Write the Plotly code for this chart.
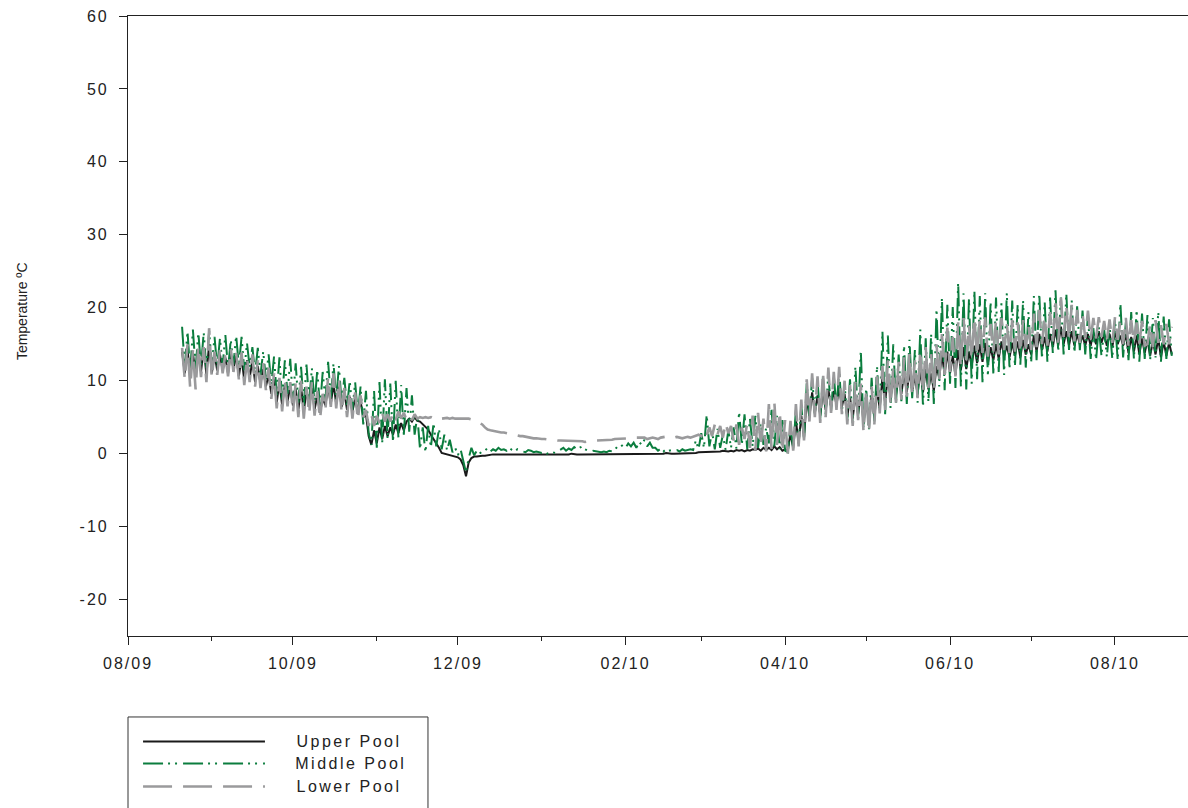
import pandas as pd
import plotly.graph_objects as go

# Daily water temperature readings (degrees C), one value per day from 2009-08-21
upper_pool = [
    14.0, 11.0, 14.4, 10.6, 13.8, 10.8, 14.2,
    11.2, 14.6, 10.8, 15.0, 11.0, 13.6, 11.4,
    13.6, 11.4, 13.2, 11.0, 13.8, 11.6, 13.4,
    10.6, 13.2, 10.0, 12.8, 10.4, 12.8, 9.8,
    12.0, 9.6, 11.6, 9.2, 10.8, 8.2, 10.2,
    7.0, 9.8, 6.6, 9.4, 7.2, 9.2, 6.6,
    9.0, 6.0, 9.2, 5.8, 8.6, 6.4, 9.0,
    6.0, 8.0, 5.6, 7.6, 6.6, 9.2, 6.8,
    9.6, 6.8, 9.2, 6.4, 8.4, 6.0, 7.8,
    5.8, 7.6, 5.6, 7.2, 5.0, 5.4, 2.4,
    1.2, 3.2, 1.4, 3.6, 2.0, 3.8, 2.4,
    3.6, 2.6, 4.0, 2.8, 4.2, 3.2, 4.4,
    4.8, 4.4, 5.0, 4.5, 4.4, 4.0, 3.6,
    3.3, 2.6, 2.0, 1.5, 0.8, 0.1, 0.0,
    -0.1, -0.1, -0.2, -0.4, -0.5, -0.8, -1.6,
    -3.1, -1.2, -0.6, -0.4, -0.4, -0.3, -0.3,
    -0.3, -0.2, -0.2, -0.1, -0.1, -0.1, -0.1,
    -0.1, -0.1, -0.2, -0.1, -0.1, -0.1, -0.2,
    -0.2, -0.1, -0.1, -0.2, -0.2, -0.1, -0.1,
    -0.1, -0.2, -0.2, -0.1, -0.1, -0.1, -0.1,
    -0.1, -0.1, -0.1, -0.1, 0.0, -0.1, -0.1,
    -0.1, -0.1, -0.1, 0.0, -0.1, -0.1, -0.1,
    -0.1, 0.0, -0.1, -0.1, 0.0, -0.1, 0.0,
    0.0, -0.1, 0.0, 0.0, -0.1, 0.0, 0.0,
    0.0, 0.0, 0.0, -0.1, 0.0, 0.0, 0.0,
    0.0, 0.0, 0.0, 0.0, 0.1, 0.0, 0.0,
    0.0, 0.0, 0.0, 0.1, 0.1, 0.1, 0.1,
    0.1, 0.1, 0.2, 0.2, 0.2, 0.3, 0.2,
    0.3, 0.2, 0.3, 0.3, 0.4, 0.3, 0.3,
    0.4, 0.3, 0.5, 0.4, 0.5, 0.3, 0.5,
    0.4, 0.6, 0.5, 0.7, 0.4, 0.8, 0.5,
    0.8, 0.5, 1.0, 0.6, 0.9, 0.4, 0.6,
    0.4, 2.8, 0.8, 4.6, 1.4, 5.2, 2.2,
    7.6, 5.0, 8.4, 5.6, 8.0, 5.2, 8.6,
    6.0, 8.8, 6.4, 8.6, 6.7, 9.0, 6.4,
    8.2, 5.0, 7.8, 4.8, 8.0, 5.4, 8.4,
    4.2, 7.4, 4.0, 8.0, 5.0, 8.6, 6.2,
    10.4, 7.0, 10.8, 7.6, 10.2, 8.0, 10.6,
    8.2, 11.0, 8.4, 11.2, 8.6, 10.6, 8.2,
    11.4, 8.4, 11.6, 8.8, 11.0, 8.6, 12.0,
    10.4, 13.6, 10.8, 14.0, 11.0, 13.4, 10.8,
    14.2, 11.4, 14.6, 11.6, 14.0, 12.0, 14.8,
    12.4, 15.0, 12.6, 15.2, 12.4, 14.6, 12.8,
    15.0, 13.0, 15.4, 13.4, 14.8, 13.2, 15.2,
    13.4, 15.4, 13.2, 15.6, 13.6, 15.0, 13.6,
    16.2, 14.0, 16.4, 14.2, 16.0, 14.0, 16.4,
    14.6, 17.0, 14.8, 17.4, 15.0, 16.8, 14.8,
    16.8, 14.8, 16.4, 15.0, 16.2, 14.8, 16.4,
    14.8, 16.6, 15.0, 16.8, 15.2, 16.4, 14.8,
    16.4, 14.6, 16.8, 15.0, 16.2, 14.8, 16.4,
    13.8, 16.0, 14.0, 16.2, 13.6, 15.8, 13.8,
    15.6, 13.4, 15.4, 13.6, 15.8, 13.2, 15.4,
    13.4, 15.2, 13.6,
]

middle_pool = [
    17.4, 11.8, 16.8, 11.2, 17.0, 11.6, 16.6,
    12.0, 16.6, 11.6, 16.8, 12.2, 16.0, 11.8,
    15.8, 12.0, 16.3, 11.6, 15.6, 12.2, 16.2,
    12.0, 16.0, 11.4, 15.2, 11.8, 14.6, 11.0,
    14.5, 10.8, 14.0, 10.2, 13.6, 9.4, 13.3,
    8.0, 13.2, 7.4, 12.8, 8.2, 13.0, 7.2,
    12.4, 7.0, 11.9, 6.6, 12.2, 7.2, 11.7,
    6.8, 11.5, 6.2, 11.2, 7.4, 12.6, 7.6,
    12.4, 7.4, 12.0, 7.0, 10.4, 6.4, 10.0,
    6.0, 9.8, 5.4, 9.2, 4.0, 8.6, 2.8,
    1.2, 8.6, 0.8, 9.8, 1.4, 10.2, 2.0,
    9.6, 1.6, 10.0, 2.2, 9.4, 2.6, 9.0,
    3.0, 8.0, 2.6, 5.2, 0.6, 3.6, 0.2,
    3.8, 0.8, 4.2, 1.0, 3.4, 0.6, 2.6,
    0.4, 1.9, 0.2, 0.8, -0.2, 0.6, -1.0,
    -2.6, -0.6, 0.8, -0.2, 0.4, 0.0, 0.3,
    0.4, 0.8, 0.3, 0.6, 0.4, 0.8, 0.5,
    0.6, 0.4, 0.8, 0.5, 0.3, 0.6, 0.4,
    0.3, 0.2, 0.5, 0.4, 0.2, 0.3, 0.2,
    0.1, 0.2, 0.0, 0.1, 0.2, 0.1, 0.3,
    0.5, 0.8, 0.4, 0.7, 0.5, 0.9, 0.6,
    0.8, 1.0, 0.6, 0.4, 0.3, 0.4, 0.3,
    0.3, 0.2, 0.3, 0.2, 0.4, 0.3, 0.5,
    1.0, 0.9, 1.2, 0.8, 1.4, 1.0, 1.5,
    0.8, 1.6, 1.2, 1.9, 1.0, 1.5, 0.8,
    0.8, 0.4, 0.7, 0.3, 0.6, 0.4, 0.5,
    0.4, 0.5, 0.3, 0.6, 0.4, 0.5, 0.6,
    0.5, 1.8, 0.6, 2.8, 0.8, 5.3, 1.0,
    3.0, 0.6, 3.4, 0.8, 2.6, 0.5, 3.2,
    0.8, 3.6, 0.7, 5.7, 1.2, 5.4, 0.6,
    4.8, 1.0, 5.2, 0.8, 4.2, 1.2, 3.6,
    1.4, 6.0, 1.0, 5.2, 0.6, 4.6, 0.4,
    0.2, 3.8, 0.6, 6.0, 1.4, 6.6, 2.0,
    9.6, 5.0, 10.4, 5.4, 10.0, 4.8, 10.6,
    5.4, 11.0, 5.8, 10.8, 6.2, 11.4, 5.8,
    9.6, 4.6, 10.2, 4.2, 12.0, 4.8, 14.2,
    3.4, 9.0, 3.2, 10.4, 4.4, 12.0, 5.6,
    16.8, 5.4, 16.2, 6.2, 15.0, 6.8, 13.6,
    7.2, 14.8, 6.8, 15.6, 7.6, 14.2, 7.0,
    17.0, 6.4, 15.8, 7.0, 16.4, 6.8, 19.8,
    9.2, 21.4, 8.7, 20.4, 9.6, 20.1, 9.0,
    23.5, 9.2, 22.0, 8.8, 21.2, 9.6, 22.4,
    10.2, 21.6, 9.8, 22.0, 10.6, 20.8, 11.0,
    21.4, 11.2, 20.6, 10.8, 22.0, 11.6, 21.0,
    11.9, 20.4, 12.2, 21.0, 11.8, 19.4, 12.4,
    21.6, 12.8, 22.0, 13.0, 20.8, 12.6, 21.4,
    13.8, 22.4, 14.0, 21.6, 13.6, 22.0, 14.2,
    21.0, 13.8, 20.2, 14.2, 19.6, 13.6, 19.0,
    13.0, 17.2, 12.8, 17.4, 13.4, 17.0, 13.2,
    17.6, 13.0, 18.4, 12.8, 20.6, 13.2, 18.0,
    12.8, 19.4, 13.0, 19.7, 12.6, 19.2, 13.0,
    19.0, 12.8, 18.6, 13.2, 19.4, 12.6, 18.8,
    13.0, 18.4, 13.4,
]

lower_pool = [
    14.5, 10.2, 15.0, 9.0, 14.2, 8.8, 14.8,
    10.5, 14.6, 9.8, 17.2, 10.4, 14.0, 10.8,
    14.2, 11.0, 13.6, 10.6, 14.4, 11.2, 13.8,
    10.2, 13.9, 9.4, 13.2, 9.8, 13.6, 9.2,
    12.8, 9.0, 12.4, 8.7, 11.8, 7.5, 11.0,
    6.2, 10.4, 5.8, 10.0, 6.5, 9.8, 5.6,
    9.6, 5.0, 10.0, 4.8, 9.2, 5.4, 9.8,
    5.2, 8.6, 4.7, 8.2, 6.0, 10.5, 6.4,
    11.0, 6.2, 10.2, 5.6, 9.0, 5.0, 8.6,
    4.8, 8.4, 4.6, 8.0, 5.0, 6.0, 3.8,
    5.4, 3.8, 5.2, 4.2, 5.6, 4.4, 5.4,
    4.4, 5.6, 4.6, 5.8, 4.8, 5.6, 4.6,
    5.2, 4.6, 5.4, 4.8, 5.0, 4.9, 5.0,
    4.9, 5.0, 4.8, 4.9, 5.0, 4.8, 4.9,
    4.9, 4.8, 4.9, 4.8, 4.8, 4.9, 4.8,
    4.8, 4.8, 4.7, 4.6, 4.4, 4.2, 4.0,
    3.6, 3.3, 3.2, 3.1, 3.0, 2.9, 2.9,
    2.9, 2.8, 2.7, 2.6, 2.6, 2.5, 2.4,
    2.4, 2.3, 2.3, 2.2, 2.1, 2.1, 2.0,
    2.0, 2.0, 1.9, 1.9, 1.9, 1.8, 1.8,
    1.8, 1.8, 1.7, 1.7, 1.7, 1.7, 1.7,
    1.7, 1.7, 1.6, 1.7, 1.7, 1.8, 1.8,
    1.8, 1.8, 1.9, 1.9, 1.9, 1.9, 2.0,
    2.0, 2.0, 2.1, 2.1, 2.1, 2.2, 2.2,
    2.2, 2.2, 2.1, 2.2, 2.0, 2.1, 2.2,
    2.1, 2.0, 2.2, 2.3, 2.3, 2.4, 2.3,
    2.2, 2.3, 2.2, 2.1, 2.2, 2.3, 2.2,
    2.3, 2.4, 2.6, 2.4, 3.2, 2.5, 3.6,
    2.4, 4.0, 2.6, 3.8, 2.2, 4.2, 2.8,
    3.8, 1.8, 4.0, 1.2, 3.6, 2.0, 4.2,
    0.8, 5.2, 0.4, 5.6, 1.0, 4.8, 0.3,
    6.8, 0.6, 7.2, 1.2, 5.8, 0.2, 4.6,
    0.0, 4.5, 0.4, 6.8, 1.0, 7.4, 1.8,
    10.2, 4.4, 11.0, 5.0, 10.6, 4.2, 11.2,
    5.0, 11.8, 5.6, 11.2, 6.0, 11.9, 5.4,
    10.0, 4.0, 9.4, 3.8, 9.8, 4.6, 9.6,
    3.0, 8.8, 2.9, 9.2, 4.0, 10.6, 5.5,
    12.0, 6.0, 12.8, 6.6, 11.8, 7.0, 12.6,
    7.4, 13.2, 7.8, 13.8, 8.0, 12.8, 7.6,
    14.2, 8.3, 14.6, 9.0, 13.8, 8.6, 15.0,
    10.1, 16.4, 10.8, 17.3, 11.2, 16.0, 10.6,
    18.0, 11.8, 18.6, 12.8, 17.6, 13.0, 18.7,
    13.4, 18.4, 13.8, 18.7, 13.3, 17.8, 14.0,
    18.2, 13.6, 18.6, 14.2, 17.8, 13.8, 18.3,
    14.0, 18.0, 13.8, 18.3, 14.4, 17.6, 14.2,
    19.2, 14.6, 19.7, 15.0, 18.8, 14.8, 19.4,
    15.4, 20.6, 15.2, 21.4, 16.0, 20.2, 15.6,
    20.4, 15.4, 19.7, 15.2, 19.2, 15.8, 19.6,
    15.6, 18.6, 15.8, 18.7, 16.0, 18.2, 15.6,
    18.4, 15.2, 18.7, 15.6, 18.2, 15.0, 18.6,
    14.8, 18.3, 15.2, 18.0, 15.0, 18.2, 14.8,
    15.0, 17.8, 14.6, 18.3, 15.2, 17.6, 15.0,
    17.8, 15.0, 17.4,
]

series_names = ["Upper Pool", "Middle Pool", "Lower Pool"]
y_ticks = [-20, -10, 0, 10, 20, 30, 40, 50, 60]
y_tick_labels = [str(v) for v in y_ticks]

dates = pd.date_range("2009-08-21", periods=len(lower_pool), freq="D")

FONT = "Liberation Sans, Arial, sans-serif"
AXIS_COLOR = "#222222"

styles = [
    dict(color="#1a1a1a", width=2.0, dash="solid"),
    dict(color="#0b7d3e", width=2.0, dash="20px,5px,2px,5px,2px,6px"),
    dict(color="#9a9a9c", width=2.6, dash="29px,11px"),
]

fig = go.Figure()
for name, values, style in zip(series_names, [upper_pool, middle_pool, lower_pool], styles):
    fig.add_trace(go.Scatter(x=dates, y=values, mode="lines", name=name,
                             line=style, showlegend=False))

fig.update_layout(
    width=1188, height=808,
    margin=dict(l=128, r=0, t=16, b=172),
    plot_bgcolor="white", paper_bgcolor="white",
    font=dict(family=FONT, size=16, color=AXIS_COLOR),
    showlegend=False,
)

fig.update_xaxes(
    type="date",
    range=["2009-08-01", "2010-08-28"],
    tick0="2009-08-01", dtick="M2", tickformat="%m/%y",
    ticks="outside", ticklen=8, tickwidth=1.2, tickcolor=AXIS_COLOR,
    minor=dict(dtick="M1", tick0="2009-08-01", ticks="outside", ticklen=4,
               tickwidth=1.2, tickcolor=AXIS_COLOR, showgrid=False),
    showline=True, linecolor=AXIS_COLOR, linewidth=1.2, mirror=True,
    showgrid=False, zeroline=False,
    ticklabelstandoff=5,
    tickfont=dict(family=FONT, size=16, color=AXIS_COLOR),
)

fig.update_yaxes(
    range=[-25, 60], tickvals=y_ticks, ticktext=y_tick_labels,
    ticks="outside", ticklen=8, tickwidth=1.2, tickcolor=AXIS_COLOR,
    showline=True, linecolor=AXIS_COLOR, linewidth=1.2,
    showgrid=False, zeroline=False,
    ticklabelstandoff=7,
    tickfont=dict(family=FONT, size=16, color=AXIS_COLOR),
)

# Axis title
fig.add_annotation(
    text="Temperature ºC", xref="paper", yref="paper",
    x=-0.1, y=0.524, textangle=-90, showarrow=False,
    font=dict(family=FONT, size=14, color=AXIS_COLOR),
    xanchor="center", yanchor="middle",
)

# Legend box below the plot
fig.add_shape(type="rect", xref="paper", yref="paper",
              x0=0.0, x1=0.283, y0=-0.1306, y1=-0.32,
              line=dict(color="#333333", width=1), fillcolor="rgba(0,0,0,0)")

legend_rows = [-0.1702, -0.2056, -0.2427]
for name, style, yr in zip(series_names, styles, legend_rows):
    fig.add_shape(type="line", xref="paper", yref="paper",
                  x0=0.0142, x1=0.1292, y0=yr, y1=yr,
                  line=dict(color=style["color"], width=style["width"], dash=style["dash"]))
    fig.add_annotation(text=name, xref="paper", yref="paper",
                       x=0.1684, y=yr, xanchor="left", yanchor="middle",
                       showarrow=False,
                       font=dict(family=FONT, size=16, color=AXIS_COLOR))

spacing_js = """
document.querySelectorAll('.xtick text, .ytick text').forEach(function(t){
  t.style.letterSpacing = '2px';
});
document.querySelectorAll('.annotation-text').forEach(function(t){
  if (t.textContent.indexOf('Pool') >= 0) { t.style.letterSpacing = '2.5px'; }
});
"""

fig.write_html("out.html", post_script=spacing_js)
